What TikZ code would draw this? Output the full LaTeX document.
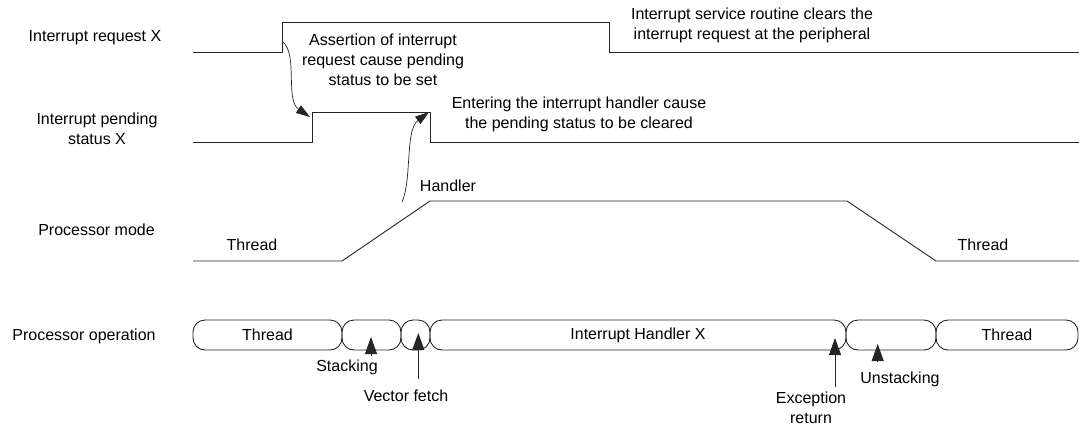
\documentclass[tikz,border=0pt]{standalone}
\usepackage{fontspec}
\setmainfont{Liberation Sans}
\usepackage{tikz}
\usetikzlibrary{positioning, arrows.meta}

\begin{document}
\begin{tikzpicture}[x=1pt, y=-1pt, line width=0.9pt, draw=black!85,
    font=\fontsize{16}{20}\selectfont,
    lbl/.style={align=center, inner sep=0pt},
    opbox/.style={draw, rounded corners=12pt, minimum height=30pt, inner sep=0pt, outer sep=0pt},
    markarrow/.style={-{Triangle[length=17pt, width=12pt]}},
    causearrow/.style={line width=0.7pt, -{Triangle[length=14pt, width=9pt]}}]

    \useasboundingbox (0,0) rectangle (1079,426);

    % Row Labels
    \node[lbl] (reqlbl) at (95,38) {Interrupt request X};
    \node[lbl] (pendlbl) at (97,129) {Interrupt pending\\status X};
    \node[lbl] (modelbl) at (96.5,230) {Processor mode};
    \node[lbl] (oplbl) at (84,336) {Processor operation};

    % Interrupt Request Waveform
    \draw (193,52) -- (282,52) -- (282,22) -- (609,22) -- (609,52) -- (1079,52);
    \node[lbl] (assertlbl) at (383,60) {Assertion of interrupt\\request cause pending\\status to be set};
    \node[lbl] (isrlbl) at (752,25) {Interrupt service routine clears the\\interrupt request at the peripheral};

    % Pending Status Waveform
    \draw (193,142) -- (312,142) -- (312,112.5) -- (430,112.5) -- (430,142) -- (1079,142);
    \node[lbl] (enterlbl) at (579,114) {Entering the interrupt handler cause\\the pending status to be cleared};

    % Processor Mode Waveform
    \draw (193,261) -- (342,261) -- (430,201) -- (847,201) -- (936,261) -- (1079,261);
    \node[lbl] (thrlbl) at (252,245) {Thread};
    \node[lbl] (handlbl) at (448,186) {Handler};
    \node[lbl] (thrlbltwo) at (983,245) {Thread};

    % Cause Arrows
    \coordinate (reqedge) at (283,42);
    \coordinate (pendset) at (310,117);
    \coordinate (handstart) at (402,202);
    \coordinate (pendclr) at (429,112);
    \draw[causearrow] (reqedge) .. controls (298,55) and (285,100) .. (pendset);
    \draw[causearrow] (handstart) .. controls (412,180) and (405,130) .. (pendclr);

    % Processor Operation Bar
    \node[opbox, minimum width=149pt] (thr) at (267.5,335) {Thread};
    \node[opbox, minimum width=59pt] (stk) at (371.5,335) {};
    \node[opbox, minimum width=29pt] (vec) at (415.5,335) {};
    \node[opbox, minimum width=416pt] (isr) at (638,335) {Interrupt Handler X};
    \node[opbox, minimum width=90pt] (unstk) at (891,335) {};
    \node[opbox, minimum width=142pt] (thrtwo) at (1007,335) {Thread};

    % Operation Markers
    \coordinate (stkbase) at (371,356);
    \coordinate (stktip) at (371,337);
    \coordinate (vecbase) at (418.3,379);
    \coordinate (vectip) at (418.3,333);
    \coordinate (excbase) at (835,387);
    \coordinate (exctip) at (835,338);
    \coordinate (unstkbase) at (877.7,361);
    \coordinate (unstktip) at (877.7,344);
    \draw[markarrow] (stkbase) -- (stktip);
    \draw[markarrow] (vecbase) -- (vectip);
    \draw[markarrow] (excbase) -- (exctip);
    \draw[markarrow] (unstkbase) -- (unstktip);

    \node[lbl] (stklbl) at (347,367) {Stacking};
    \node[lbl] (veclbl) at (406,396) {Vector fetch};
    \node[lbl] (exclbl) at (811,408) {Exception\\return};
    \node[lbl] (unstklbl) at (900,379) {Unstacking};

\end{tikzpicture}
\end{document}
